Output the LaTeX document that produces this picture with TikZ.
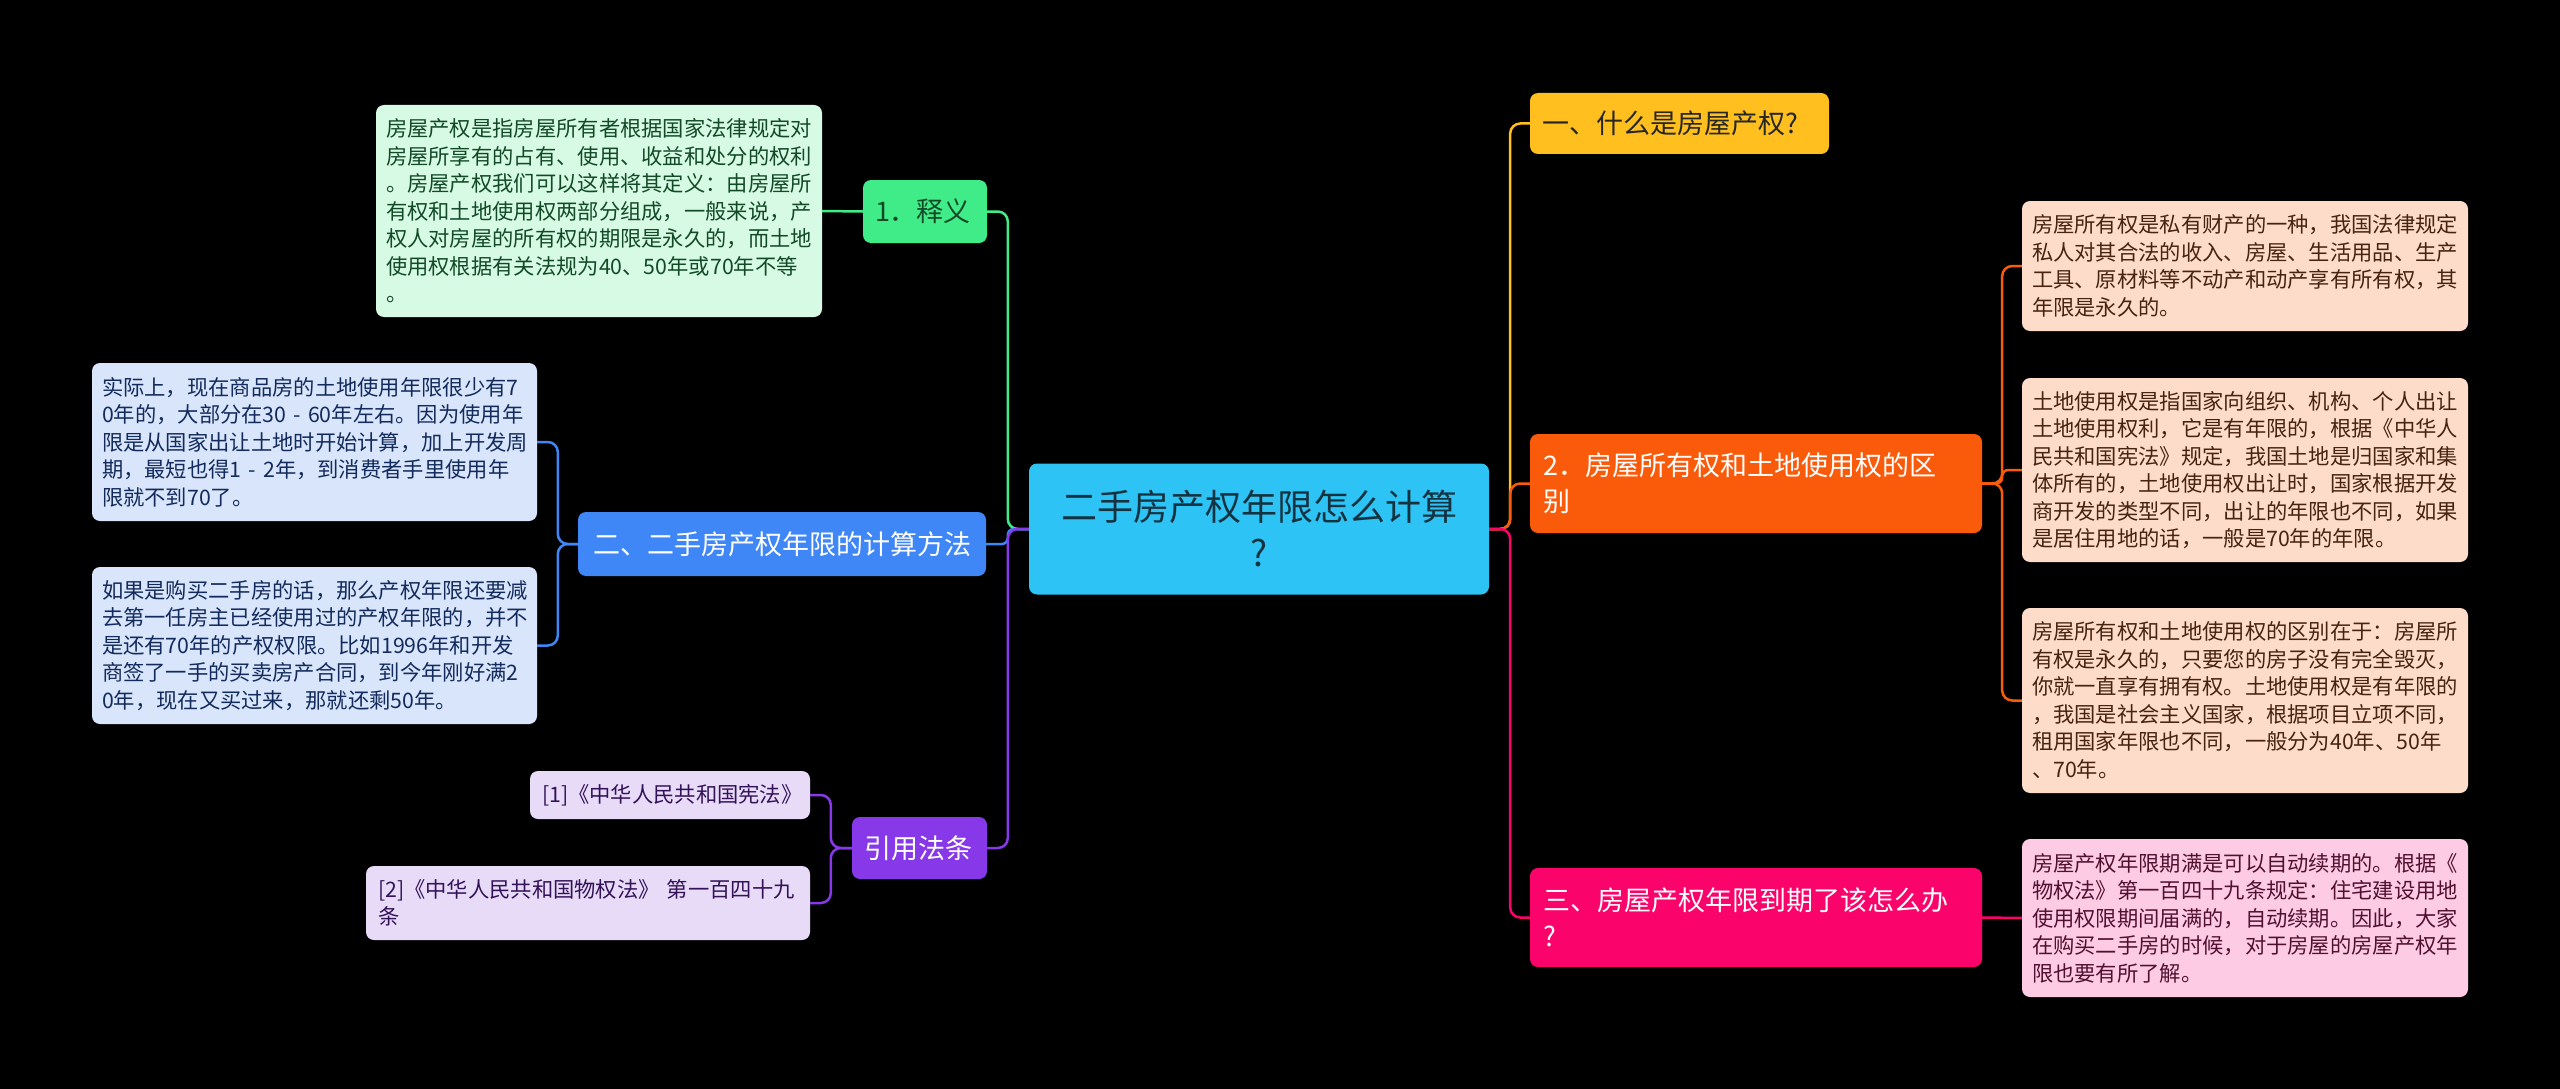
\documentclass[tikz,border=0pt]{standalone}
\usepackage{fontspec}
\setmainfont{Noto Sans CJK SC}
\definecolor{ctrc}{HTML}{2DC3F4}
\definecolor{yelc}{HTML}{FFC01F}
\definecolor{orgc}{HTML}{FA5B0B}
\definecolor{pnkc}{HTML}{FA046B}
\definecolor{grnc}{HTML}{40EC87}
\definecolor{bluc}{HTML}{3F86F6}
\definecolor{purc}{HTML}{8739E9}
\definecolor{grnl}{HTML}{D6FAE3}
\definecolor{blul}{HTML}{D8E5FB}
\definecolor{purl}{HTML}{E8DBF8}
\definecolor{orgl}{HTML}{FDDCCA}
\definecolor{pnkl}{HTML}{FDCCE4}
\definecolor{grnt}{HTML}{124A28}
\definecolor{blut}{HTML}{132B5C}
\definecolor{purt}{HTML}{331258}
\definecolor{orgt}{HTML}{472310}
\definecolor{pnkt}{HTML}{521031}
\definecolor{ctrt}{HTML}{14323F}

\begin{document}
\begin{tikzpicture}[x=1pt,y=-1pt,
  box/.style={rounded corners=8pt,inner xsep=12pt,inner ysep=0pt,align=left},
  leaf/.style={box,inner xsep=10pt,text width=426pt,font=\fontsize{21.3}{27.5}\selectfont},
  topic/.style={box,font=\fontsize{27}{36}\selectfont},
  lnk/.style={line width=2.5pt,rounded corners=10pt}]
\fill[black] (0,0) rectangle (2560,1089);
\useasboundingbox (0,0) rectangle (2560,1089);

\node[box,fill=ctrc,text=ctrt,align=center,text width=436pt,minimum height=131pt,
  font=\fontsize{36}{46}\selectfont] (ctr) at (1259,529) {二手房产权年限怎么计算\\?};

\node[topic,fill=yelc,text=black!85,text width=275pt,minimum height=61pt] (q1) at (1679.5,123.5) {一、什么是房屋产权?};
\node[topic,fill=orgc,text=white,inner xsep=13pt,text width=426pt,minimum height=99pt] (q2) at (1756,483.5) {2．房屋所有权和土地使用权的区\\别};
\node[topic,fill=pnkc,text=white,inner xsep=13pt,text width=426pt,minimum height=99pt] (q3) at (1756,917.5) {三、房屋产权年限到期了该怎么办\\?};

\node[topic,fill=grnc,text=grnt,text width=100pt,minimum height=63pt] (r1) at (925,211.5) {1．释义};
\node[topic,fill=bluc,text=white,inner xsep=15pt,text width=378pt,minimum height=64pt] (r2) at (782,544) {二、二手房产权年限的计算方法};
\node[topic,fill=purc,text=white,text width=111pt,minimum height=62pt] (r3) at (919.5,848) {引用法条};

\node[leaf,fill=orgl,text=orgt,minimum height=130pt] (la) at (2245,266) {房屋所有权是私有财产的一种，我国法律规定\\私人对其合法的收入、房屋、生活用品、生产\\工具、原材料等不动产和动产享有所有权，其\\年限是永久的。};
\node[leaf,fill=orgl,text=orgt,minimum height=184pt] (lb) at (2245,470) {土地使用权是指国家向组织、机构、个人出让\\土地使用权利，它是有年限的，根据《中华人\\民共和国宪法》规定，我国土地是归国家和集\\体所有的，土地使用权出让时，国家根据开发\\商开发的类型不同，出让的年限也不同，如果\\是居住用地的话，一般是70年的年限。};
\node[leaf,fill=orgl,text=orgt,minimum height=185pt] (lc) at (2245,700.5) {房屋所有权和土地使用权的区别在于：房屋所\\有权是永久的，只要您的房子没有完全毁灭，\\你就一直享有拥有权。土地使用权是有年限的\\，我国是社会主义国家，根据项目立项不同，\\租用国家年限也不同，一般分为40年、50年\\、70年。};
\node[leaf,fill=pnkl,text=pnkt,minimum height=158pt] (ld) at (2245,918) {房屋产权年限期满是可以自动续期的。根据《\\物权法》第一百四十九条规定：住宅建设用地\\使用权限期间届满的，自动续期。因此，大家\\在购买二手房的时候，对于房屋的房屋产权年\\限也要有所了解。};

\node[leaf,fill=grnl,text=grnt,minimum height=212pt] (ls) at (599,211) {房屋产权是指房屋所有者根据国家法律规定对\\房屋所享有的占有、使用、收益和处分的权利\\。房屋产权我们可以这样将其定义：由房屋所\\有权和土地使用权两部分组成，一般来说，产\\权人对房屋的所有权的期限是永久的，而土地\\使用权根据有关法规为40、50年或70年不等\\。};
\node[leaf,fill=blul,text=blut,text width=425pt,minimum height=158pt] (lj1) at (314.5,442) {实际上，现在商品房的土地使用年限很少有7\\0年的，大部分在30 - 60年左右。因为使用年\\限是从国家出让土地时开始计算，加上开发周\\期，最短也得1 - 2年，到消费者手里使用年\\限就不到70了。};
\node[leaf,fill=blul,text=blut,text width=425pt,minimum height=157pt] (lj2) at (314.5,645.5) {如果是购买二手房的话，那么产权年限还要减\\去第一任房主已经使用过的产权年限的，并不\\是还有70年的产权权限。比如1996年和开发\\商签了一手的买卖房产合同，到今年刚好满2\\0年，现在又买过来，那就还剩50年。};
\node[leaf,fill=purl,text=purt,inner xsep=12pt,text width=256pt,minimum height=48pt] (ref1) at (670,795) {[1]《中华人民共和国宪法》};
\node[leaf,fill=purl,text=purt,inner xsep=12pt,text width=420pt,minimum height=74pt] (ref2) at (588,903) {[2]《中华人民共和国物权法》 第一百四十九\\条};

\draw[lnk,grnc] (ctr.west) -- ++(-21,0) |- (r1.east);
\draw[lnk,bluc,rounded corners=6pt] (ctr.west) -- ++(-21,0) |- (r2.east);
\draw[lnk,purc] (ctr.west) -- ++(-21,0) |- (r3.east);
\draw[lnk,yelc] (ctr.east) -- ++(21,0) |- (q1.west);
\draw[lnk,orgc] (ctr.east) -- ++(21,0) |- (q2.west);
\draw[lnk,pnkc] (ctr.east) -- ++(21,0) |- (q3.west);

\draw[lnk,grnc] (r1.west) -- (ls.east);
\foreach \n in {lj1,lj2}
  \draw[lnk,bluc] (r2.west) -- ++(-20,0) |- (\n.east);
\foreach \n in {ref1,ref2}
  \draw[lnk,purc] (r3.west) -- ++(-21,0) |- (\n.east);
\foreach \n/\r in {la/10,lb/6,lc/10}
  \draw[lnk,orgc,rounded corners=\r pt] (q2.east) -- ++(20,0) |- (\n.west);
\draw[lnk,pnkc] (q3.east) -- (ld.west);
\end{tikzpicture}
\end{document}
